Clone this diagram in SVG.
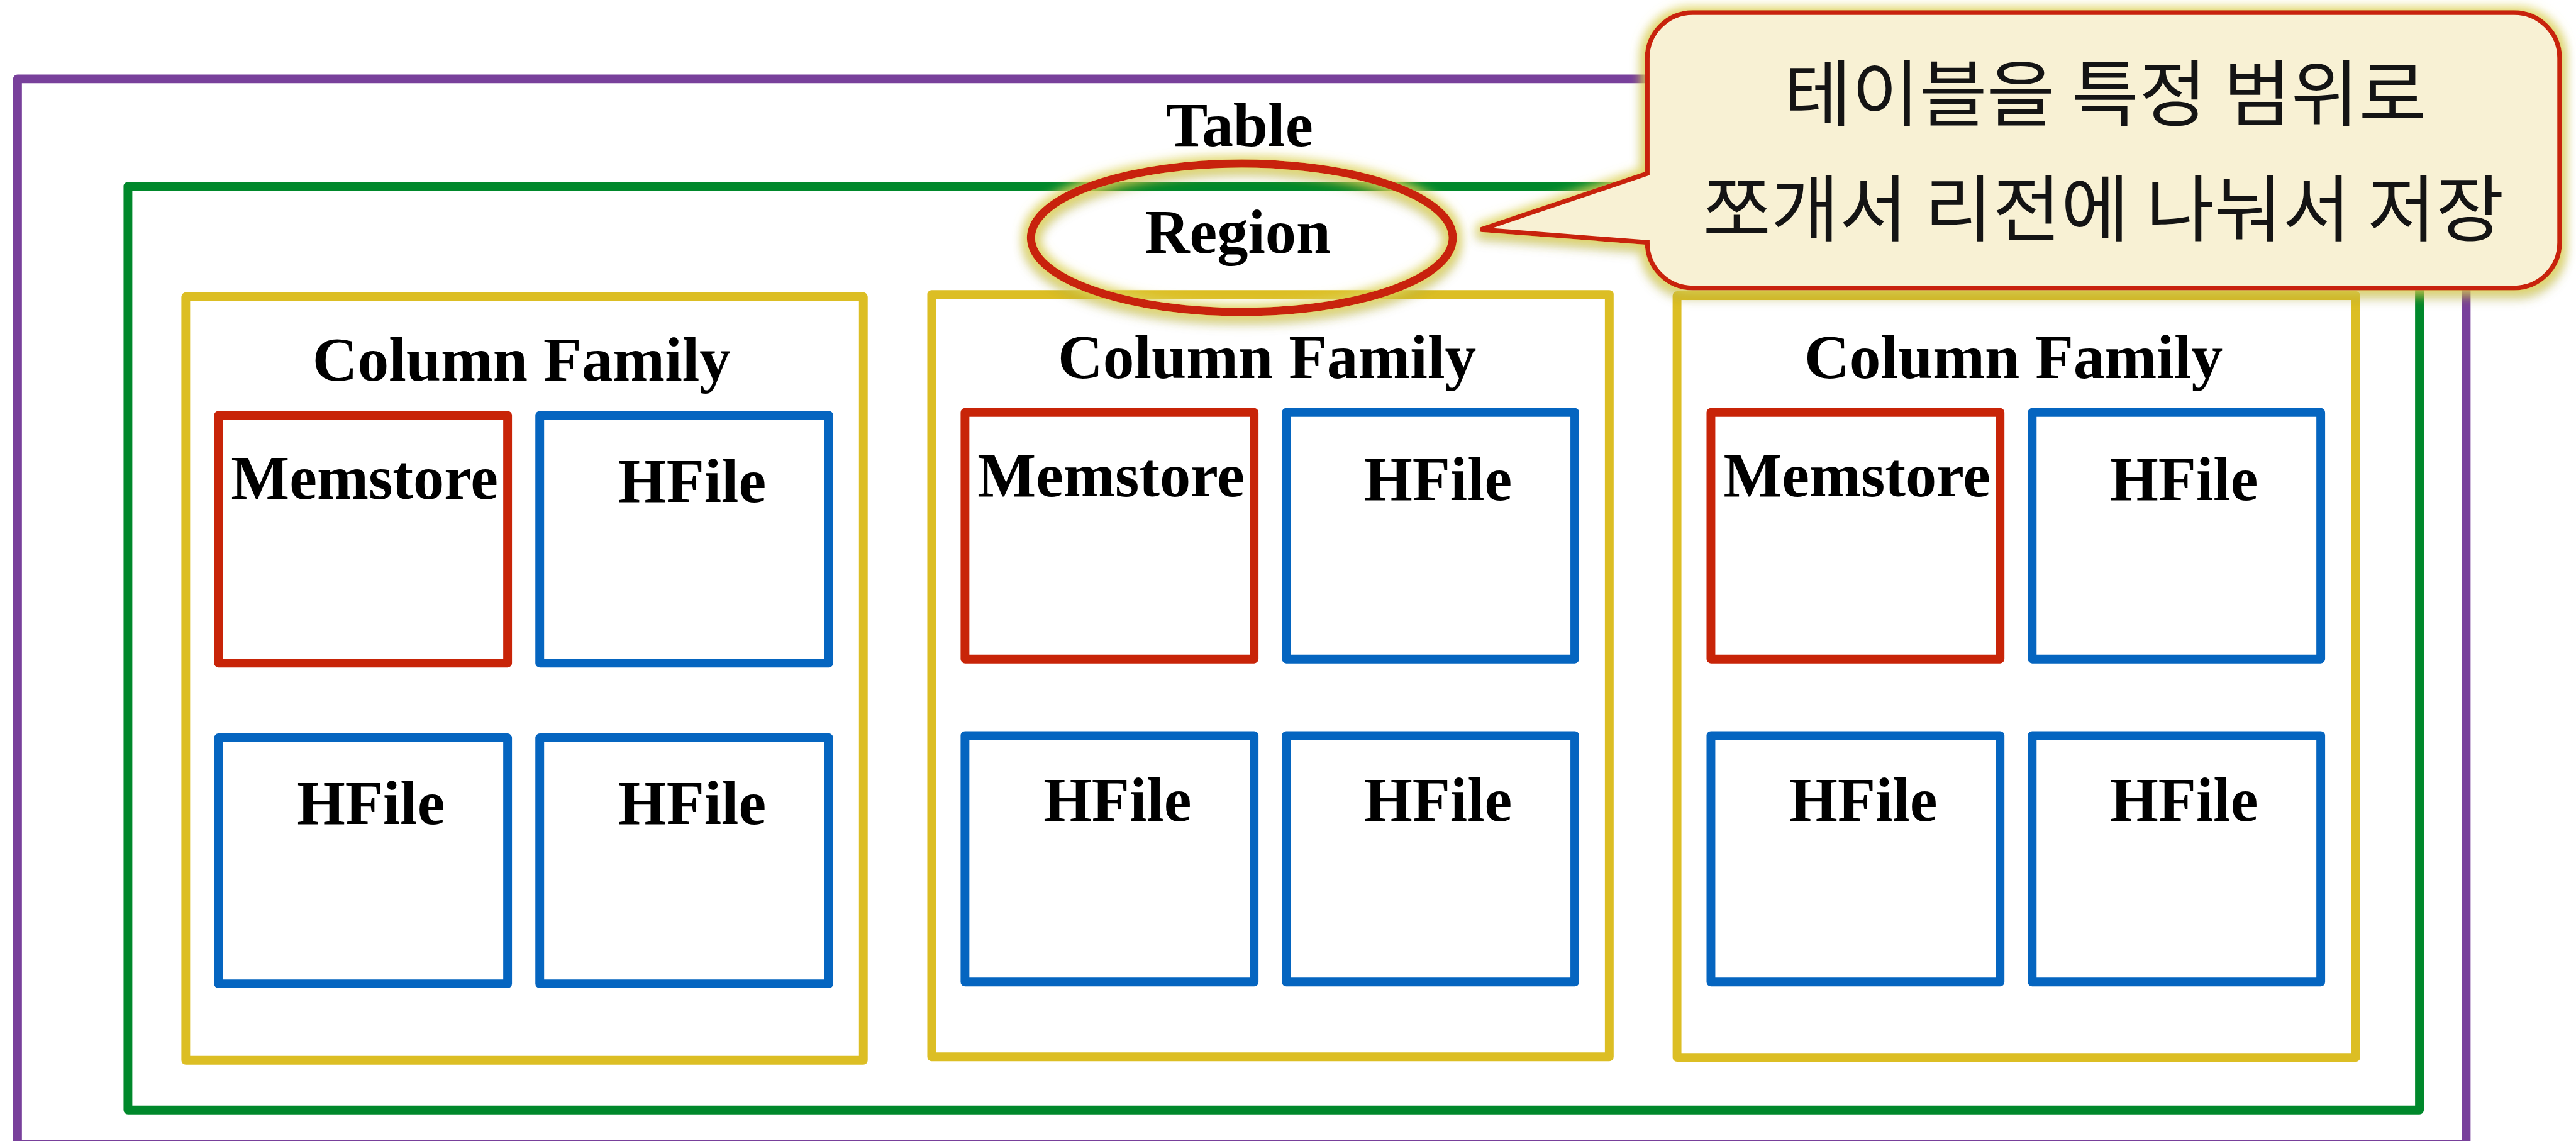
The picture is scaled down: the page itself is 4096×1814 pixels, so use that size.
<svg xmlns="http://www.w3.org/2000/svg" width="4096" height="1814" viewBox="0 0 4096 1814">
  <style>
    .frame { fill: none; stroke-width: 15; stroke-linejoin: round; }
    .table { stroke: #78409B; }
    .region { stroke: #00882B; }
    .cf { stroke: #DCBE24; }
    .mem { stroke: #C82408; }
    .hfile { stroke: #0565C0; }
    .lbl { font-family: "Liberation Serif", "Times New Roman", serif; font-weight: bold; fill: #000; text-anchor: middle; }
    .big { font-size: 107px; }
    .small { font-size: 106px; }
    .note { font-family: "Noto Sans CJK KR", "Noto Sans", sans-serif; font-size: 124px; fill: #141414; text-anchor: middle; }
  </style>
  <defs>
    <!-- soft yellow halo with an olive drop shadow, used on the highlight shapes -->
    <filter id="halo" x="-15%" y="-30%" width="130%" height="160%">
      <feMorphology in="SourceAlpha" operator="dilate" radius="5" result="fat"/>
      <feGaussianBlur in="fat" stdDeviation="9" result="soft"/>
      <feFlood flood-color="#E3D75A" flood-opacity="0.85"/>
      <feComposite in2="soft" operator="in" result="glow"/>
      <feOffset in="soft" dy="9" result="low"/>
      <feFlood flood-color="#8F8A1E" flood-opacity="0.45"/>
      <feComposite in2="low" operator="in" result="shade"/>
      <feMerge>
        <feMergeNode in="shade"/>
        <feMergeNode in="glow"/>
        <feMergeNode in="SourceGraphic"/>
      </feMerge>
    </filter>
  </defs>

  <g transform="scale(0.9288)">
    <!-- Table -->
    <g id="table">
      <rect class="frame table" x="30" y="135" width="4192" height="1824"/>
      <text class="lbl big" x="2122" y="250">Table</text>
    </g>

    <!-- Region -->
    <g id="region">
      <rect class="frame region" x="219" y="319" width="3923" height="1581"/>
    </g>

    <!-- Column family 1 -->
    <g id="cf1">
      <rect class="frame cf" x="318" y="508" width="1160" height="1307"/>
      <text class="lbl big" x="893" y="651">Column Family</text>
      <g id="cf1-memstore">
        <rect class="frame mem" x="374" y="711" width="495" height="424"/>
        <text class="lbl small" x="624" y="854">Memstore</text>
      </g>
      <g id="cf1-hfile1">
        <rect class="frame hfile" x="924" y="711" width="495" height="424"/>
        <text class="lbl small" x="1185" y="859">HFile</text>
      </g>
      <g id="cf1-hfile2">
        <rect class="frame hfile" x="374" y="1263" width="495" height="421"/>
        <text class="lbl small" x="635" y="1410">HFile</text>
      </g>
      <g id="cf1-hfile3">
        <rect class="frame hfile" x="924" y="1263" width="495" height="421"/>
        <text class="lbl small" x="1185" y="1410">HFile</text>
      </g>
    </g>

    <!-- Column family 2 -->
    <g id="cf2">
      <rect class="frame cf" x="1595" y="504" width="1160" height="1305"/>
      <text class="lbl big" x="2169" y="647">Column Family</text>
      <g id="cf2-memstore">
        <rect class="frame mem" x="1652" y="706" width="495" height="422"/>
        <text class="lbl small" x="1902" y="849">Memstore</text>
      </g>
      <g id="cf2-hfile1">
        <rect class="frame hfile" x="2202" y="706" width="494" height="422"/>
        <text class="lbl small" x="2462" y="856">HFile</text>
      </g>
      <g id="cf2-hfile2">
        <rect class="frame hfile" x="1652" y="1259" width="495" height="422"/>
        <text class="lbl small" x="1913" y="1405">HFile</text>
      </g>
      <g id="cf2-hfile3">
        <rect class="frame hfile" x="2202" y="1259" width="494" height="422"/>
        <text class="lbl small" x="2462" y="1405">HFile</text>
      </g>
    </g>

    <!-- Column family 3 -->
    <g id="cf3">
      <rect class="frame cf" x="2871" y="506" width="1162" height="1304"/>
      <text class="lbl big" x="3447" y="647">Column Family</text>
      <g id="cf3-memstore">
        <rect class="frame mem" x="2929" y="706" width="495" height="422"/>
        <text class="lbl small" x="3179" y="849">Memstore</text>
      </g>
      <g id="cf3-hfile1">
        <rect class="frame hfile" x="3479" y="706" width="494" height="422"/>
        <text class="lbl small" x="3739" y="856">HFile</text>
      </g>
      <g id="cf3-hfile2">
        <rect class="frame hfile" x="2929" y="1259" width="495" height="422"/>
        <text class="lbl small" x="3190" y="1405">HFile</text>
      </g>
      <g id="cf3-hfile3">
        <rect class="frame hfile" x="3479" y="1259" width="494" height="422"/>
        <text class="lbl small" x="3739" y="1405">HFile</text>
      </g>
    </g>

    <!-- Highlight ring around the Region title -->
    <g id="region-mark">
      <ellipse cx="2126" cy="407" rx="361" ry="127" fill="none" stroke="#C82408" stroke-width="14" filter="url(#halo)"/>
      <text class="lbl small" x="2119" y="433">Region</text>
    </g>

    <!-- Speech bubble pointing at the ring -->
    <g id="callout">
      <path d="M2898,21.5 H4304 A78,78 0 0 1 4382,99.5 V415 A78,78 0 0 1 4304,493 H2898 A78,78 0 0 1 2820,415 L2535,393 L2820,297 V99.5 A78,78 0 0 1 2898,21.5 Z"
            fill="#F8F1D4" stroke="#C82408" stroke-width="8" stroke-linejoin="miter" filter="url(#halo)"/>
      <text class="note" x="3604" y="206" textLength="1100" lengthAdjust="spacingAndGlyphs">테이블을 특정 범위로</text>
      <text class="note" x="3601" y="403" textLength="1372" lengthAdjust="spacingAndGlyphs">쪼개서 리전에 나눠서 저장</text>
    </g>
  </g>
</svg>
